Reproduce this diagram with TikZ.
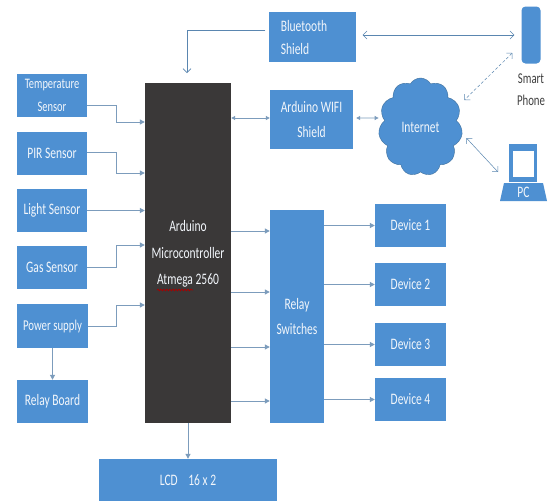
\documentclass[tikz,border=0pt]{standalone}
\usepackage{fontspec}
\setmainfont[FakeStretch=0.72]{Carlito}
\usetikzlibrary{arrows.meta,calc,shapes.symbols,decorations.pathmorphing}
\definecolor{boxblue}{HTML}{4E90D2}
\definecolor{boxedge}{HTML}{41719C}
\definecolor{linegray}{HTML}{7C9CBC}
\definecolor{darkchip}{HTML}{3A3838}
\definecolor{barbblue}{HTML}{5A86B0}
\definecolor{softwhite}{HTML}{F2F6FB}
\tikzset{
  blk/.style={rectangle,fill=boxblue,inner sep=0pt,align=center,text=softwhite,font=\fontsize{16}{22}\selectfont},
  wired/.style={draw=linegray,line width=1pt,-{Triangle[length=5pt,width=5pt]}},
  wiredboth/.style={draw=linegray,line width=1pt,{Triangle[length=4pt,width=4pt]}-{Triangle[length=4pt,width=4pt]}},
  barb/.style={draw=barbblue,line width=.5pt,{Straight Barb[length=4pt,width=8pt]}-{Straight Barb[length=4pt,width=8pt]}},
  barbend/.style={draw=barbblue,line width=.6pt,-{Straight Barb[length=4pt,width=8pt]}},
  caption/.style={inner sep=0pt,align=center,text=black!75,font=\fontsize{15}{22}\selectfont}
}
\begin{document}
\begin{tikzpicture}[x=1pt,y=-1pt]
\useasboundingbox (0,0) rectangle (549,501);
\fill[white] (0,0) rectangle (549,501);
% left column
\node[blk,minimum width=70,minimum height=43,font=\fontsize{14.5}{22}\selectfont] (temp) at (52,95.5) {Temperature\\[1pt]Sensor};
\node[blk,minimum width=70,minimum height=43] (pir) at (52,153.5) {PIR Sensor};
\node[blk,minimum width=70,minimum height=43] (light) at (52,210.5) {Light Sensor};
\node[blk,minimum width=70,minimum height=43] (gas) at (52,267.5) {Gas Sensor};
\node[blk,minimum width=71,minimum height=44,font=\fontsize{15}{22}\selectfont] (power) at (52.5,326) {Power supply};
\node[blk,minimum width=71,minimum height=43] (relayb) at (52.5,401.5) {Relay Board};
% centre
\node[blk,fill=darkchip,minimum width=86,minimum height=340] (mcu) at (188,253) {};
\node[inner sep=0pt,align=center,text=softwhite,font=\fontsize{16}{26.5}\selectfont] (mcutext) at (188,254) {Arduino\\Microcontroller\\Atmega 2560};
\draw[red!65!black,line width=.7pt,decorate,decoration={snake,amplitude=.9pt,segment length=3pt}] (157,290) -- (193,290);
\node[blk,minimum width=178,minimum height=42] (lcd) at (188,480) {LCD\hspace{8pt} 16 x 2};
\node[blk,minimum width=54,minimum height=213] (relays) at (297,316.5) {Relay\\[3pt]Switches};
% devices
\node[blk,minimum width=71,minimum height=43] (d1) at (410.5,225.5) {Device 1};
\node[blk,minimum width=71,minimum height=43] (d2) at (410.5,284.5) {Device 2};
\node[blk,minimum width=71,minimum height=43] (d3) at (410.5,344.5) {Device 3};
\node[blk,minimum width=71,minimum height=43] (d4) at (410.5,399.5) {Device 4};
% top right
\node[blk,minimum width=87,minimum height=50,align=left] (bt) at (312,37) {\hspace{-16pt}Bluetooth\\[1pt]\hspace{-16pt}Shield};
\node[blk,minimum width=83,minimum height=59] (wifi) at (311.5,119.5) {Arduino WIFI\\[3pt]Shield};
\node[cloud,cloud puffs=11,cloud puff arc=120,aspect=0.85,fill=boxblue,draw=boxedge,line width=.4pt,minimum width=84,minimum height=98,inner sep=0pt,text=softwhite,font=\fontsize{16}{18}\selectfont] (net) at (420.5,127) {Internet};
\node[rectangle,rounded corners=4pt,fill=boxblue,minimum width=19,minimum height=57,inner sep=0pt] (phone) at (531,35) {};
\node[caption] (phonetext) at (531,90) {Smart\\Phone};
% PC
\node[rectangle,fill=boxblue,minimum width=28,minimum height=38,inner sep=0pt] (mon) at (523,163) {};
\node[rectangle,fill=white,minimum width=21,minimum height=26,inner sep=0pt] (screen) at (523,164) {};
\fill[boxblue] (504,183) -- (543,183) -- (547,201) -- (500,201) -- cycle;
\node[blk,fill=none,minimum width=40,minimum height=18] (pc) at (523.5,192) {PC};
% connectors
\draw[wired] ($(temp.east)+(0,9.5)$) -- ++(29,0) |- (mcu.west |- 0,122);
\draw[wired] ($(pir.east)+(0,-1.5)$) -- ++(29,0) |- (mcu.west |- 0,173);
\draw[wired] (light.east) -- (mcu.west |- light.east);
\draw[wired] (gas.east) -- ++(29,0) |- (mcu.west |- 0,245);
\draw[wired] (power.east) -- ++(28,0) |- (mcu.west |- 0,305);
\draw[wired] (power.south) -- (relayb.north);
\draw[wired] (mcu.south) -- (lcd.north);
\draw[wiredboth] (mcu.east |- 0,118) -- (wifi.west |- 0,118);
\draw[wired] (mcu.east |- 0,231) -- (relays.west |- 0,231);
\draw[wired] (mcu.east |- 0,292) -- (relays.west |- 0,292);
\draw[wired] (mcu.east |- 0,347) -- (relays.west |- 0,347);
\draw[wired] (mcu.east |- 0,401) -- (relays.west |- 0,401);
\draw[wired] (relays.east |- d1.west) -- (d1.west);
\draw[wired] (relays.east |- d2.west) -- (d2.west);
\draw[wired] (relays.east |- d3.west) -- (d3.west);
\draw[wired] (relays.east |- d4.west) -- (d4.west);
\draw[barbend] ($(bt.west)+(-3,-7)$) -| (187,73);
\draw[barb] ($(bt.east)+(7,-2)$) -- ($(phone.west)+(-7,0)$);
\draw[barb,densely dashed] ($(phone.west)+(-9,18)$) -- ($(net.east)+(3,-27)$);
\draw[wiredboth,line width=.8pt] ($(wifi.east)+(3,-1.5)$) -- ($(net.west)+(-1,-9)$);
\draw[barb] ($(net.east)+(5,11)$) -- (498,172);
\end{tikzpicture}
\end{document}
